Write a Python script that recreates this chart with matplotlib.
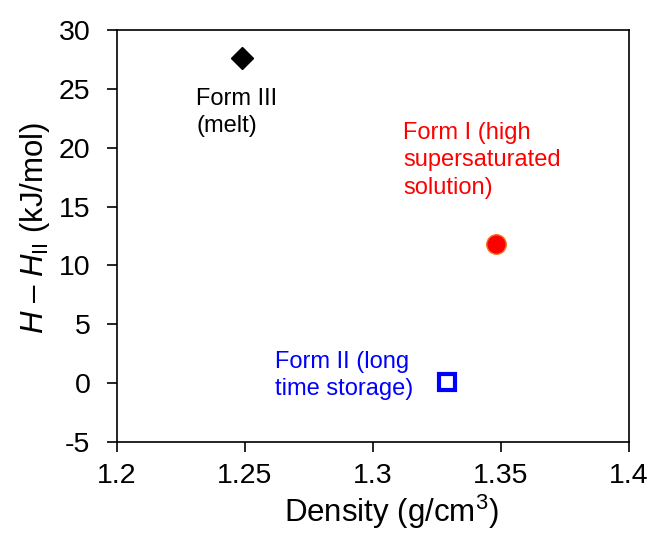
import matplotlib
matplotlib.use("Agg")
import matplotlib.pyplot as plt

plt.rcParams['font.family'] = ['Liberation Sans', 'DejaVu Sans']
plt.rcParams['mathtext.fontset'] = 'custom'
plt.rcParams['mathtext.rm'] = 'Liberation Sans'
plt.rcParams['mathtext.it'] = 'Liberation Sans:italic'
plt.rcParams['axes.unicode_minus'] = False

# data
forms = ['Form III', 'Form I', 'Form II']
density = [1.249, 1.348, 1.329]
enthalpy = [27.6, 11.8, 0.1]
labels = ['Form III\n(melt)', 'Form I (high\nsupersaturated\nsolution)', 'Form II (long\ntime storage)']
label_x = [1.231, 1.3117, 1.2617]
label_y = [25.1, 22.2, 2.75]
colors = ['black', 'red', 'blue']

xticks = [1.2, 1.25, 1.3, 1.35, 1.4]
xticklabels = ['1.2', '1.25', '1.3', '1.35', '1.4']
yticks = [-5, 0, 5, 10, 15, 20, 25, 30]

fig = plt.figure(figsize=(6.5, 5.33), dpi=100)
ax = fig.add_axes([117 / 650, 1 - 442 / 533, 512 / 650, 412 / 533])

# Form III diamond
ax.plot(density[0], enthalpy[0], marker='D', ms=11, color='black', ls='none')
# Form I circle
ax.plot(density[1], enthalpy[1], marker='o', ms=14, color='red', mec='#f07020', mew=1, ls='none')
# Form II open square
ax.plot(density[2], enthalpy[2], marker='s', ms=11, mfc='white', mec='blue', mew=3, ls='none')

for t, x, y, c in zip(labels, label_x, label_y, colors):
    ax.text(x, y, t, color=c, fontsize=17, ha='left', va='top', linespacing=1.32)

ax.set_xlim(1.2, 1.4)
ax.set_ylim(-5, 30)
ax.set_xticks(xticks)
ax.set_xticklabels(xticklabels)
ax.set_yticks(yticks)
ax.tick_params(direction='out', length=7, width=1.2, labelsize=20.5)
ax.tick_params(axis='y', pad=12)
ax.tick_params(axis='x', pad=8)
for s in ax.spines.values():
    s.set_linewidth(1.2)

ax.set_xlabel('Density (g/cm$^3$)', fontsize=22.5, labelpad=3)
ax.xaxis.label.set_x(0.535)
ax.set_ylabel(r'$H$ – $H_{\mathrm{II}}$ (kJ/mol)', fontsize=22.5, labelpad=5)
ax.yaxis.label.set_y(0.52)

fig.savefig('out.png', dpi=100)
